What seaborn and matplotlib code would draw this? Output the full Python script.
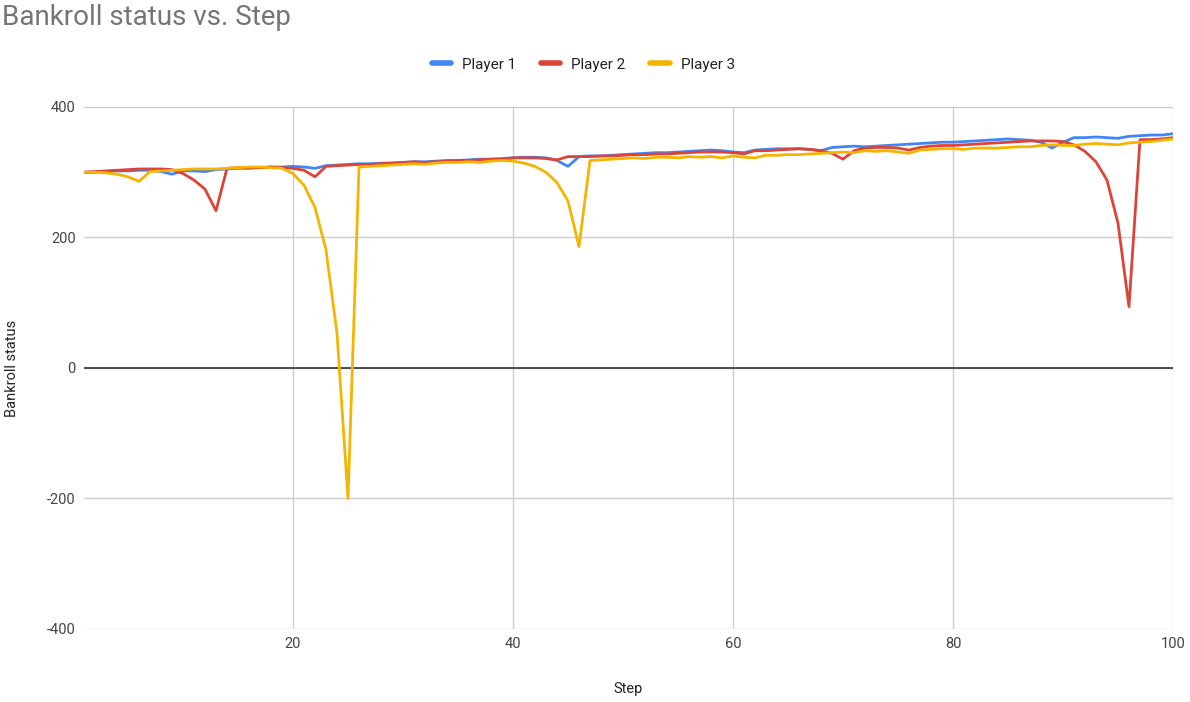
import numpy as np
import pandas as pd
import matplotlib
matplotlib.use("Agg")
import matplotlib.pyplot as plt
import seaborn as sns

steps = list(range(1, 101))

player1 = [300, 300, 301, 302, 302, 303, 303, 301, 297, 302,
           302, 301, 304, 305, 306, 306, 307, 308, 308, 309,
           308, 306, 310, 311, 312, 313, 313, 314, 314, 315,
           316, 316, 317, 318, 318, 319, 320, 320, 321, 322,
           323, 323, 322, 318, 309, 324, 325, 325, 326, 327,
           328, 329, 330, 330, 331, 332, 333, 334, 333, 331,
           330, 334, 335, 336, 336, 336, 335, 333, 338, 339,
           340, 339, 340, 341, 342, 343, 344, 345, 346, 346,
           347, 348, 349, 350, 351, 350, 349, 346, 337, 346,
           353, 353, 354, 353, 352, 355, 356, 357, 357, 359]

player2 = [300, 301, 302, 303, 304, 305, 305, 305, 304, 298,
           288, 274, 241, 306, 307, 307, 307, 308, 307, 306,
           303, 293, 309, 310, 311, 312, 312, 313, 314, 315,
           316, 315, 316, 317, 318, 318, 319, 320, 320, 322,
           322, 322, 321, 319, 324, 324, 324, 325, 325, 326,
           327, 327, 328, 328, 329, 330, 331, 331, 331, 330,
           328, 333, 333, 334, 335, 336, 335, 333, 329, 320,
           333, 337, 338, 338, 337, 334, 338, 340, 341, 341,
           342, 343, 344, 345, 346, 347, 348, 348, 348, 347,
           342, 332, 316, 288, 222, 94, 350, 350, 351, 353]

player3 = [300, 300, 299, 297, 293, 286, 301, 302, 303, 304,
           305, 305, 305, 306, 307, 308, 308, 307, 306, 298,
           280, 246, 181, 53, -200, 308, 309, 310, 311, 312,
           313, 312, 314, 315, 315, 316, 315, 317, 318, 317,
           314, 309, 300, 284, 256, 186, 318, 319, 320, 321,
           322, 321, 323, 323, 322, 324, 323, 324, 322, 325,
           323, 322, 326, 326, 327, 327, 328, 329, 330, 331,
           330, 333, 332, 333, 331, 329, 334, 335, 336, 336,
           335, 337, 337, 337, 338, 339, 339, 341, 342, 341,
           341, 343, 344, 343, 342, 345, 346, 347, 349, 351]

players = ["Player 1", "Player 2", "Player 3"]
colors = ["#4285F4", "#DB4437", "#F4B400"]

df = pd.DataFrame({
    "Step": steps * 3,
    "Bankroll status": player1 + player2 + player3,
    "Player": [p for p in players for _ in steps],
})

sns.set_style("white")
plt.rcParams["font.family"] = ["Roboto", "DejaVu Sans"]
plt.rcParams["axes.unicode_minus"] = False

fig = plt.figure(figsize=(11.9, 7.02), dpi=100)
ax = fig.add_axes([0.0706, 0.104, 0.9151, 0.7436])

sns.lineplot(data=df, x="Step", y="Bankroll status", hue="Player",
             palette=dict(zip(players, colors)), linewidth=2.0, ax=ax,
             legend=False)

ax.set_xlim(1, 100)
ax.set_ylim(-400, 400)
ax.set_xticks([20, 40, 60, 80, 100])
ax.set_yticks([-400, -200, 0, 200, 400])
ax.grid(True, color="#cccccc", linewidth=1)
ax.set_axisbelow(True)
ax.axhline(0, color="#333333", linewidth=1.2, zorder=1.5)
for s in ax.spines.values():
    s.set_visible(False)
ax.tick_params(length=0, labelsize=10.5, labelcolor="#444444", pad=6)

ax.set_xlabel("Step", fontsize=10.5, color="#222222", labelpad=22)
ax.set_ylabel("Bankroll status", fontsize=10.5, color="#222222", labelpad=20)

fig.text(0.002, 0.995, "Bankroll status vs. Step", fontsize=20,
         color="#757575", ha="left", va="top")

handles = [plt.Line2D([], [], color=c, linewidth=4) for c in colors]
fig.legend(handles, players, loc="center", bbox_to_anchor=(0.49, 0.908),
           ncol=3, frameon=False, fontsize=11, handlelength=1.3,
           columnspacing=1.6, handletextpad=0.7, labelcolor="#222222")

fig.savefig("out.png", dpi=100)
